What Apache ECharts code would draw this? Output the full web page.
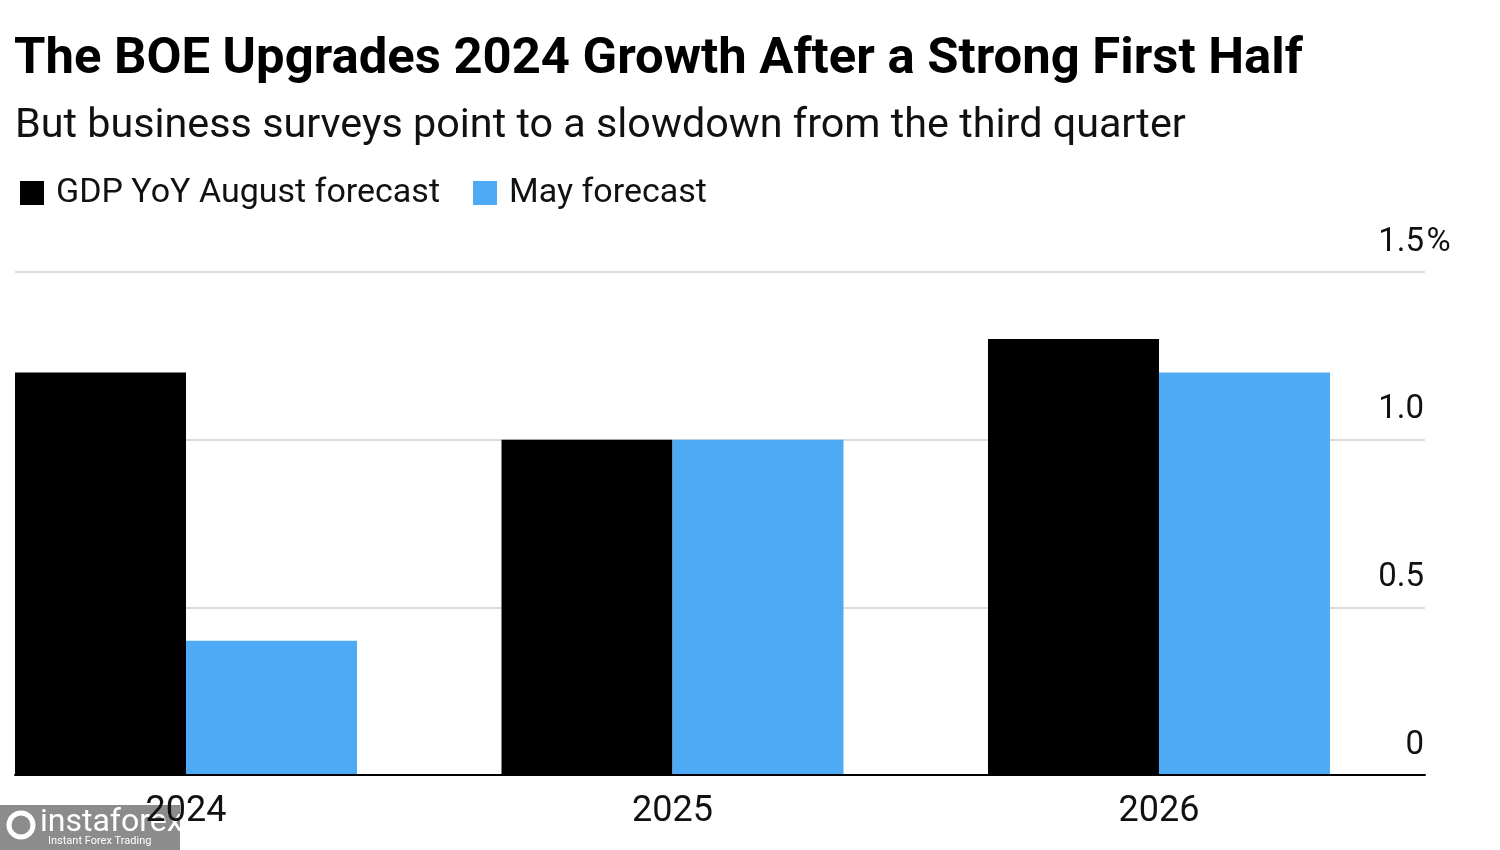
<!DOCTYPE html>
<html><head><meta charset="utf-8">
<script src="https://cdn.jsdelivr.net/npm/echarts@6/dist/echarts.min.js"></script>
<style>html,body{margin:0;padding:0;background:#fff}#main{width:1500px;height:850px}</style>
</head><body><div id="main"></div>
<script>
const titleText = "The BOE Upgrades 2024 Growth After a Strong First Half";
const subtitleText = "But business surveys point to a slowdown from the third quarter";
const categories = ["2024", "2025", "2026"];
const seriesNames = ["GDP YoY August forecast", "May forecast"];
const augustForecast = [1.2, 1.0, 1.3];
const mayForecast = [0.4, 1.0, 1.2];
const yTicks = [0, 0.5, 1.0, 1.5];
const yTickLabels = ["0", "0.5", "1.0", "1.5"];

const FONT = "Roboto";
const catIdx = categories.map((c, i) => i);
const toPairs = arr => arr.map((v, i) => [catIdx[i], v]);

const chart = echarts.init(document.getElementById('main'), null, {renderer: 'canvas'});
const option = {
  backgroundColor: '#fff',
  animation: false,
  title: [
    {text: titleText, left: 14, top: 35, padding: 0,
     textStyle: {fontFamily: FONT, fontWeight: 'bold', fontSize: 50.8, color: '#000'}},
    {text: subtitleText, left: 15, top: 106, padding: 0,
     textStyle: {fontFamily: FONT, fontWeight: 'normal', fontSize: 41.3, color: '#111'}}
  ],
  legend: {
    left: 20, top: 176, padding: 0, itemWidth: 24, itemHeight: 24, itemGap: 33, icon: 'rect',
    data: seriesNames,
    textStyle: {fontFamily: FONT, fontSize: 34, color: '#111', padding: [0, 0, 0, 7]}
  },
  grid: {left: 15, right: 75, top: 272, bottom: 75},
  xAxis: {
    type: 'value', min: -0.3515, max: 2.5468,
    axisLine: {show: true, onZero: false, lineStyle: {color: '#000', width: 2}}, z: 10,
    axisTick: {show: false}, splitLine: {show: false},
    axisLabel: {
      customValues: catIdx, margin: 19, fontFamily: FONT, fontSize: 36, color: '#111',
      formatter: v => categories[Math.round(v)] ?? ''
    }
  },
  yAxis: {
    type: 'value', position: 'right', min: yTicks[0], max: yTicks[yTicks.length - 1], interval: 0.5,
    axisLine: {show: false}, axisTick: {show: false},
    splitLine: {show: true, lineStyle: {color: '#dcdcdc', width: 2}},
    axisLabel: {
      margin: 28, align: 'right', verticalAlign: 'bottom', padding: [0, 0, 13, 0],
      fontFamily: FONT, fontSize: 33, color: '#111',
      formatter: function (v) {
        const i = yTicks.findIndex(t => Math.abs(t - v) < 1e-9);
        const lab = i >= 0 ? yTickLabels[i] : String(v);
        return '{n|' + lab + '}' + (i === yTicks.length - 1 ? '{p|%}' : '{h|%}');
      },
      rich: {
        n: {fontFamily: FONT, fontSize: 33, color: '#111'},
        p: {fontFamily: FONT, fontSize: 33, color: '#111', width: 29, align: 'left'},
        h: {fontFamily: FONT, fontSize: 33, color: 'rgba(0,0,0,0)', width: 29, align: 'left'}
      }
    }
  },
  series: [
    {name: seriesNames[0], type: 'bar', data: toPairs(augustForecast),
     barWidth: 171, barGap: '0%', itemStyle: {color: '#000'}, z: 2},
    {name: seriesNames[1], type: 'bar', data: toPairs(mayForecast),
     barWidth: 171, barGap: '0%', itemStyle: {color: '#4faaf5'}, z: 2}
  ],
  graphic: [
    {type: 'group', left: 0, top: 805, z: 100, children: [
      {type: 'rect', shape: {x: 0, y: 0, width: 180, height: 45}, style: {fill: 'rgba(120,120,120,0.85)'}},
      {type: 'circle', shape: {cx: 21, cy: 20, r: 12}, style: {fill: 'none', stroke: '#fff', lineWidth: 5}},
      {type: 'text', style: {x: 40, y: 2, text: 'instaforex', fill: '#fff', font: '32px ' + FONT}},
      {type: 'text', style: {x: 48, y: 31, text: 'Instant Forex Trading', fill: '#fff', font: '11px ' + FONT}}
    ]}
  ]
};
chart.setOption(option);
</script></body></html>
